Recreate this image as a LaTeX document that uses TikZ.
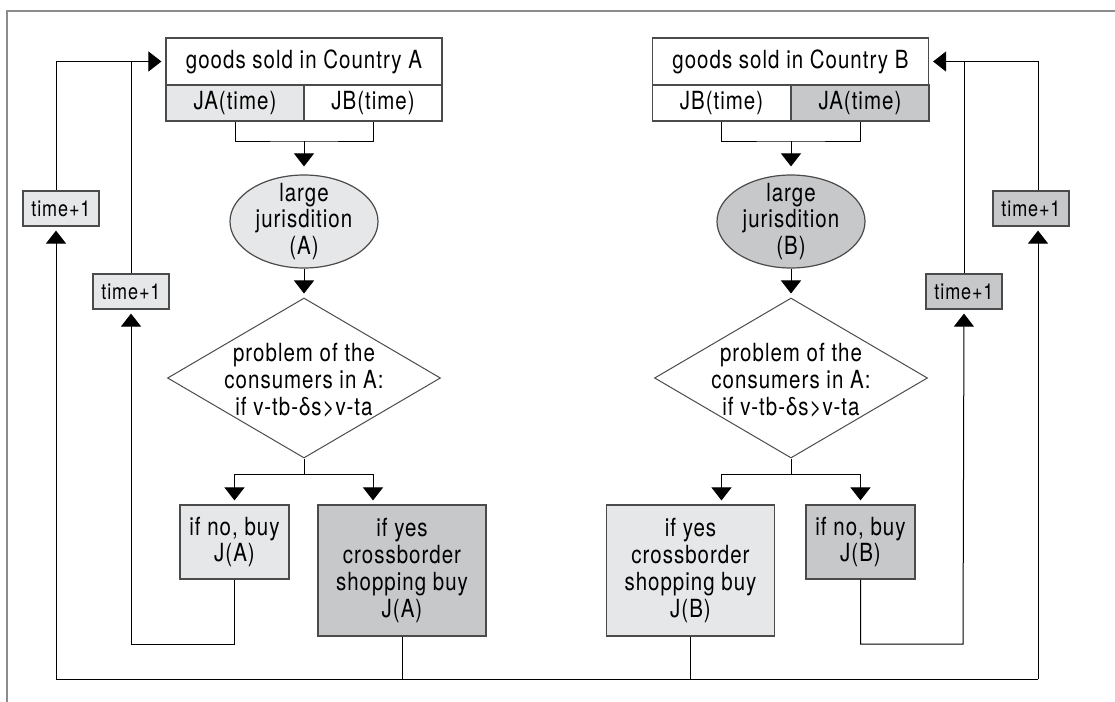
\documentclass[tikz,border=0pt]{standalone}
\usepackage{fontspec}
\setmainfont{TeX Gyre Heros}[FakeStretch=0.82, LetterSpace=4]
\usepackage{xcolor}
\usetikzlibrary{positioning, calc, arrows.meta, shapes.geometric}
\definecolor{lightfill}{RGB}{230,231,232}
\definecolor{darkfill}{RGB}{199,200,202}
\definecolor{edgegray}{RGB}{75,75,75}
\definecolor{framegray}{RGB}{140,140,140}

\tikzset{
    box/.style={draw=edgegray, line width=0.6pt, rectangle, inner sep=0pt, align=center},
    hdrbox/.style={box, minimum width=138pt, minimum height=23.5pt},
    cell/.style={box, minimum width=69pt, minimum height=18pt},
    smallbox/.style={box, minimum width=54.5pt, minimum height=37pt},
    bigbox/.style={box, minimum width=84pt, minimum height=65.5pt},
    tbox/.style={box, minimum width=38pt, minimum height=17.5pt, font=\fontsize{11pt}{13pt}\selectfont},
    jur/.style={ellipse, draw=edgegray, line width=0.6pt, inner sep=0pt, minimum width=74pt, minimum height=46.5pt},
    choice/.style={diamond, draw=edgegray, line width=0.5pt, inner sep=0pt, minimum width=136.5pt, minimum height=80pt},
    wire/.style={line width=0.5pt, draw=black},
    arr/.style={wire, -{Triangle[width=10pt,length=6.5pt]}, shorten >=2pt}
}

\begin{document}
\begin{tikzpicture}[x=0.5pt, y=-0.5pt, font=\fontsize{12.5pt}{13.4pt}\selectfont]
    \useasboundingbox (0,0) rectangle (1115,702);

    % Frame (top and left side only)
    \draw[framegray, line width=0.9pt] (7,702) -- (7,11) -- (1115,11);

    % Country A
    \node[hdrbox] (hA) at (304,61.5) {goods sold in Country A};
    \node[cell, fill=lightfill] (jaA) at (235,103) {JA(time)};
    \node[cell] (jbA) at (373,103) {JB(time)};
    \node[jur, fill=lightfill, label={[align=center]center:large\\jurisdition\\(A)}] (ellA) at (304,221.5) {};
    \node[choice, label={[align=center, yshift=-1pt]center:problem of the\\consumers in A:\\if v-tb-δs>v-ta}] (diaA) at (304,378) {};
    \node[smallbox, fill=lightfill] (noA) at (234.5,542) {if no, buy\\J(A)};
    \node[bigbox, fill=darkfill] (yesA) at (402,570.5) {if yes\\crossborder\\shopping buy\\J(A)};
    \node[tbox, fill=lightfill] (tA1) at (131,291.5) {time+1};
    \node[tbox, fill=lightfill] (tA2) at (61,208.5) {time+1};

    % Country B
    \node[hdrbox] (hB) at (790.5,61.5) {goods sold in Country B};
    \node[cell] (jbB) at (721.5,103) {JB(time)};
    \node[cell, fill=darkfill] (jaB) at (860,103) {JA(time)};
    \node[jur, fill=darkfill, label={[align=center]center:large\\jurisdition\\(B)}] (ellB) at (791,221.5) {};
    \node[choice, label={[align=center, yshift=-1pt]center:problem of the\\consumers in A:\\if v-tb-δs>v-ta}] (diaB) at (791,378) {};
    \node[bigbox, fill=lightfill] (yesB) at (690.5,570.5) {if yes\\crossborder\\shopping buy\\J(B)};
    \node[smallbox, fill=darkfill] (noB) at (860.5,542) {if no, buy\\J(B)};
    \node[tbox, fill=darkfill] (tB1) at (964,291.5) {time+1};
    \node[tbox, fill=darkfill] (tB2) at (1031,208.5) {time+1};

    % Junction points
    \coordinate (brA) at (304,141);
    \coordinate (splA) at (304,474);
    \coordinate (lpA) at (131,644);
    \coordinate (brB) at (791,141);
    \coordinate (splB) at (791,474);
    \coordinate (lpB) at (963,644);
    \coordinate (btL) at (56,679);
    \coordinate (btR) at (1038,679);

    % Left flow
    \draw[wire] (jaA.south) |- (brA) -| (jbA.south);
    \draw[arr, shorten >=4pt] (brA) -- (ellA);
    \draw[arr] (ellA) -- (diaA);
    \draw[wire] (diaA.south) -- (splA);
    \draw[arr] (splA) -| (noA.north);
    \draw[arr] (splA) -| (jbA.south |- yesA.north);

    % Right flow
    \draw[wire] (jbB.south) |- (brB) -| (jaB.south);
    \draw[arr, shorten >=4pt] (brB) -- (ellB);
    \draw[arr] (ellB) -- (diaB);
    \draw[wire] (diaB.south) -- (splB);
    \draw[arr] (splB) -| (jbB.south |- yesB.north);
    \draw[arr] (splB) -| (noB.north);

    % Inner feedback loops
    \draw[arr] (noA.south) |- (lpA) -- (tA1.south);
    \draw[arr] (tA1.north) |- (hA.west);
    \draw[arr] (noB.south) |- (lpB) -- (tB1.south);
    \draw[arr] (tB1.north) |- (hB.east);

    % Outer feedback loop along the bottom
    \draw[wire] (yesA.south) -- (yesA.south |- btL);
    \draw[wire] (yesB.south) -- (yesB.south |- btL);
    \draw[arr] (btR) -- (btL) -- (btL |- tA2.south);
    \draw[arr] (btR) -- (btR |- tB2.south);
    \draw[wire] (btL |- tA2.north) |- (tA1 |- hA.west);
    \draw[wire] (btR |- tB2.north) |- (tB1 |- hB.east);

\end{tikzpicture}
\end{document}
